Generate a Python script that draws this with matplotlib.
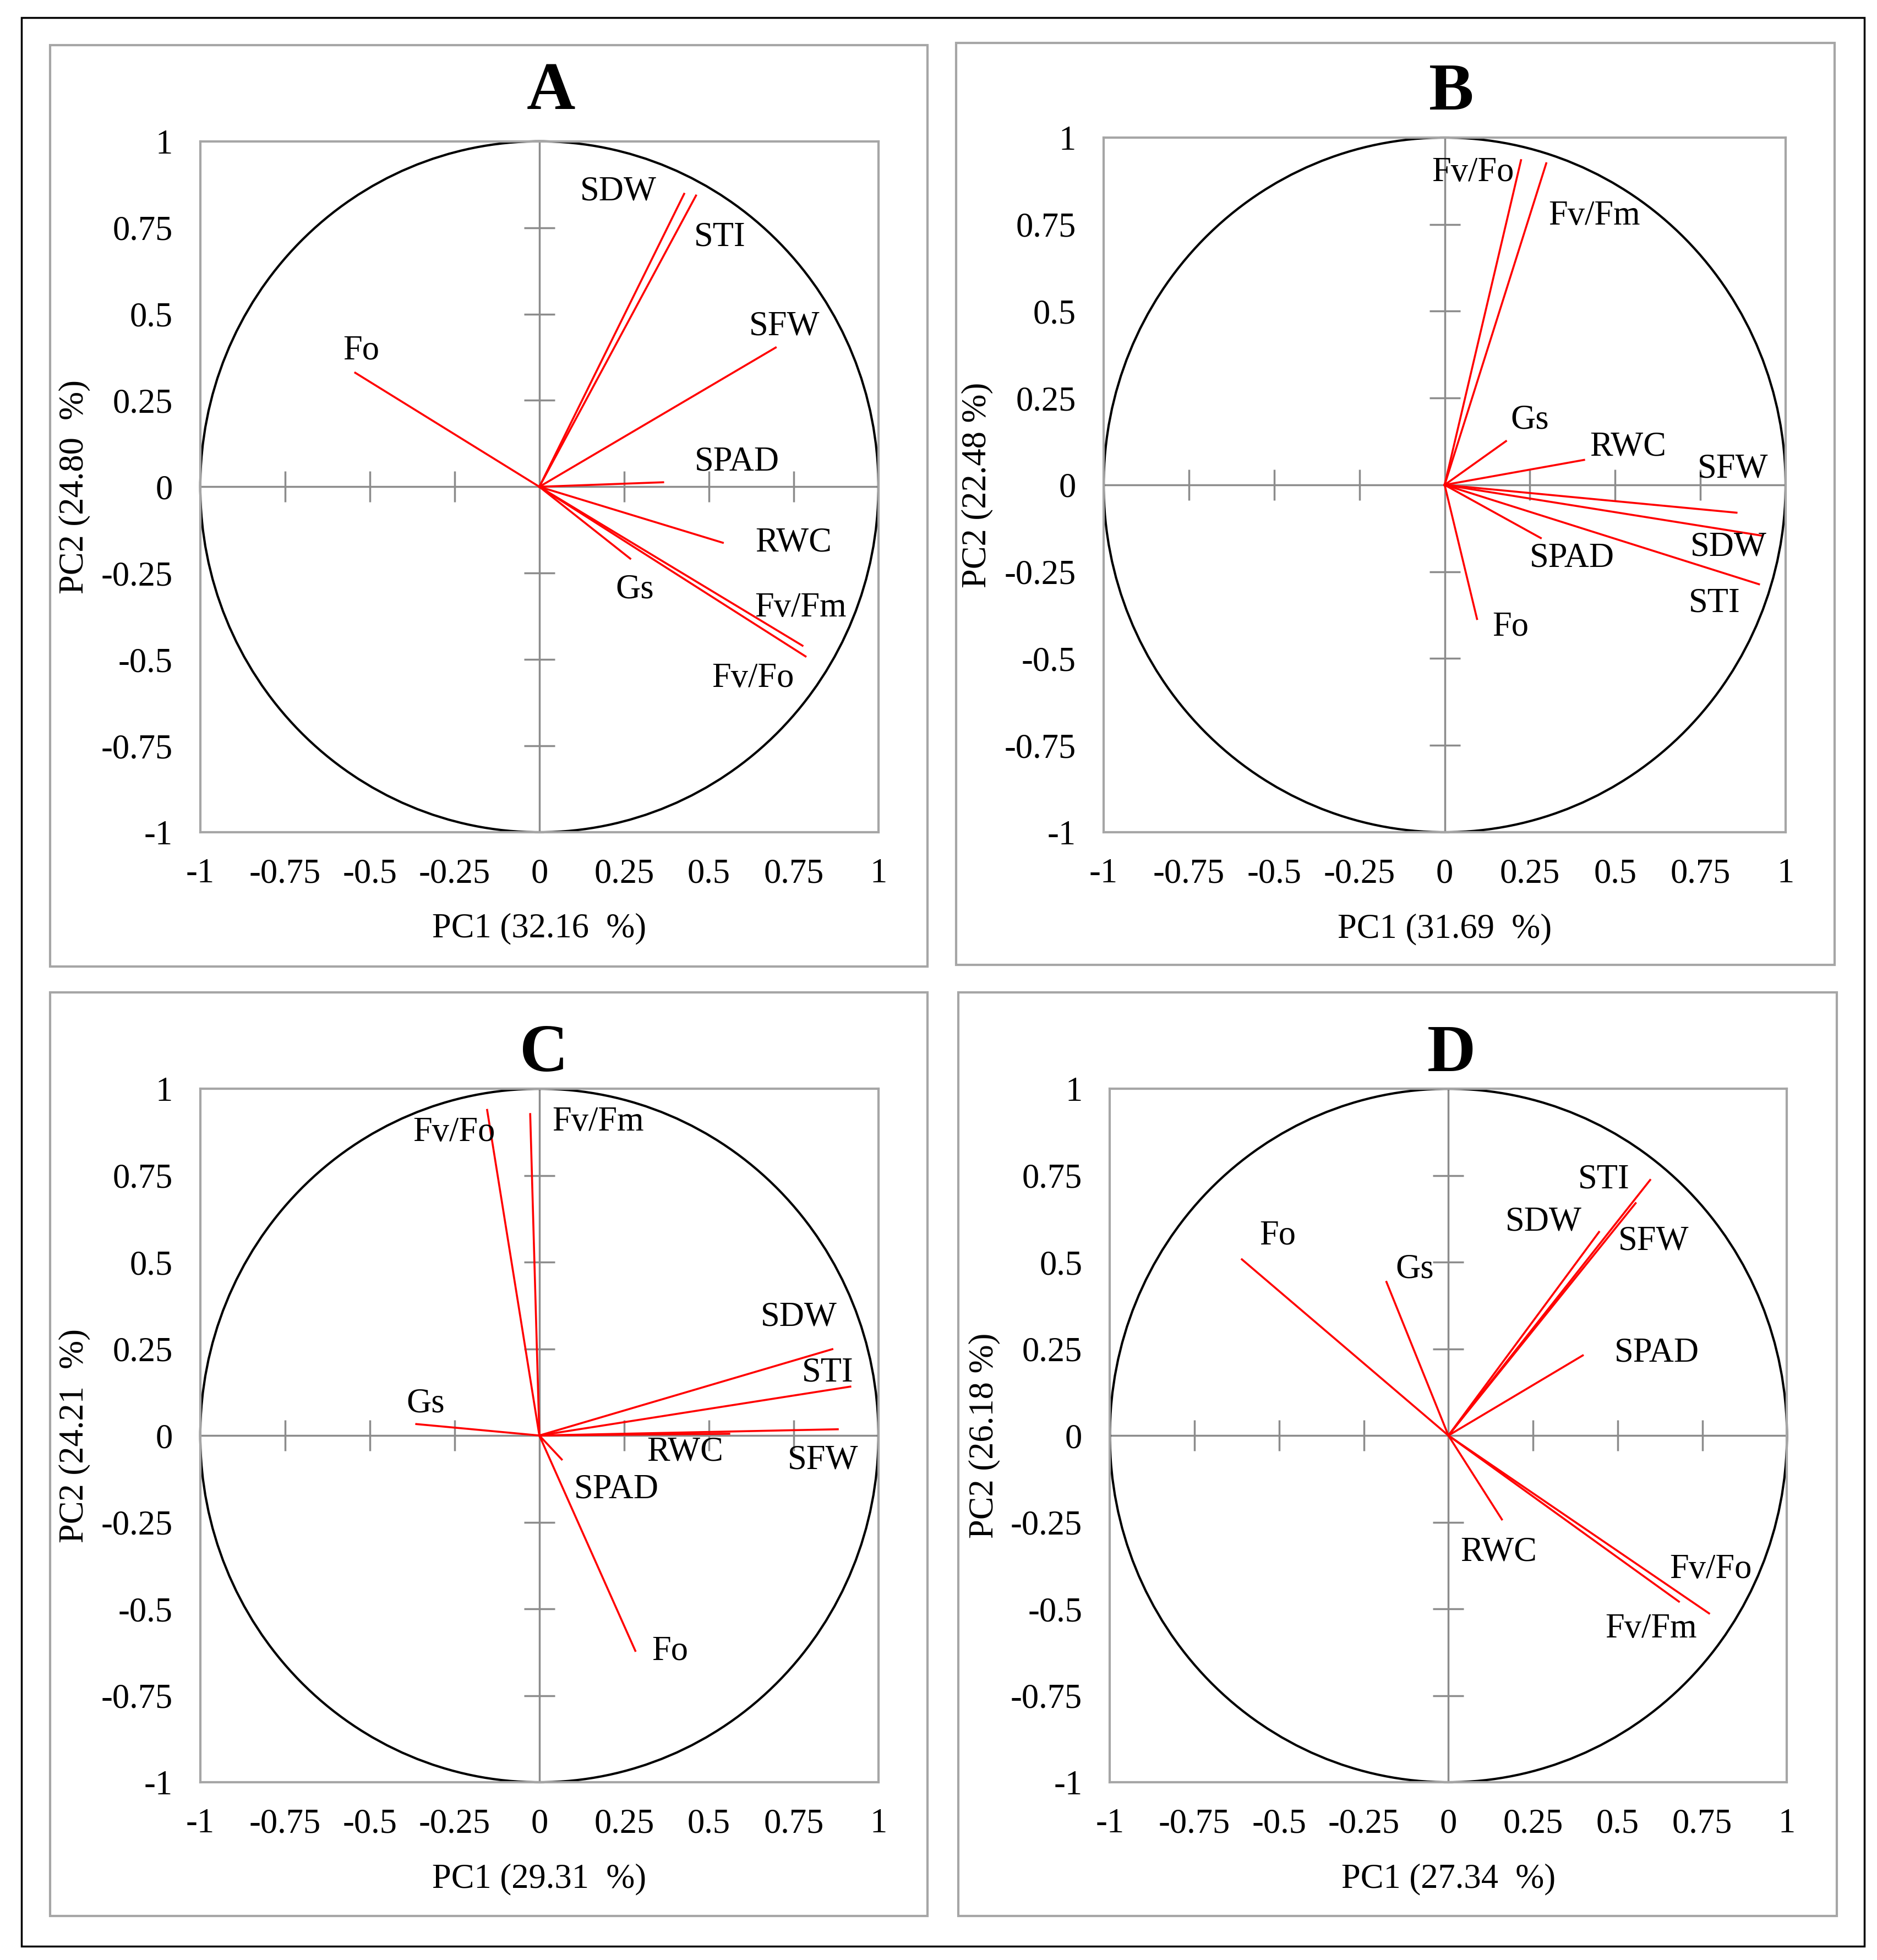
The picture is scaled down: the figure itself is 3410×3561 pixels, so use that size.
import numpy as np
import matplotlib
matplotlib.use('Agg')
import matplotlib.pyplot as plt
from matplotlib.patches import Rectangle, Circle

plt.rcParams['font.family'] = ['Liberation Serif', 'DejaVu Serif']
plt.rcParams['axes.unicode_minus'] = False

# variables and loadings (PC1, PC2) per panel
panels = ['A', 'B', 'C', 'D']

vars_A = ['Fo', 'SDW', 'STI', 'SFW', 'SPAD', 'RWC', 'Gs', 'Fv/Fm', 'Fv/Fo']
pc1_A = [-0.543, 0.427, 0.462, 0.697, 0.365, 0.541, 0.268, 0.776, 0.785]
pc2_A = [0.330, 0.848, 0.843, 0.403, 0.013, -0.162, -0.208, -0.460, -0.491]

vars_B = ['Fv/Fo', 'Fv/Fm', 'Gs', 'RWC', 'SFW', 'SDW', 'STI', 'SPAD', 'Fo']
pc1_B = [0.224, 0.298, 0.180, 0.409, 0.856, 0.930, 0.922, 0.282, 0.095]
pc2_B = [0.935, 0.926, 0.126, 0.072, -0.080, -0.146, -0.286, -0.153, -0.386]

vars_C = ['Fv/Fo', 'Fv/Fm', 'Gs', 'SDW', 'STI', 'SFW', 'RWC', 'SPAD', 'Fo']
pc1_C = [-0.154, -0.027, -0.363, 0.864, 0.917, 0.880, 0.560, 0.066, 0.283]
pc2_C = [0.939, 0.927, 0.033, 0.249, 0.141, 0.018, 0.005, -0.069, -0.621]

vars_D = ['Fo', 'Gs', 'SDW', 'STI', 'SFW', 'SPAD', 'RWC', 'Fv/Fo', 'Fv/Fm']
pc1_D = [-0.610, -0.183, 0.445, 0.596, 0.553, 0.397, 0.158, 0.770, 0.681]
pc2_D = [0.508, 0.443, 0.587, 0.737, 0.670, 0.231, -0.242, -0.513, -0.479]

pc1_pct = ['32.16  %', '31.69  %', '29.31  %', '27.34  %']
pc2_pct = ['24.80  %', '22.48 %', '24.21  %', '26.18 %']

ticks = [-1, -0.75, -0.5, -0.25, 0, 0.25, 0.5, 0.75, 1]
tick_labels = ['-1', '-0.75', '-0.5', '-0.25', '0', '0.25', '0.5', '0.75', '1']

# label placement (centre of text, data units)
lab_A = [(-0.526, 0.394), (0.233, 0.854), (0.533, 0.722), (0.723, 0.464), (0.582, 0.072),
         (0.750, -0.162), (0.282, -0.298), (0.771, -0.352), (0.630, -0.556)]
lab_B = [(0.083, 0.899), (0.439, 0.773), (0.250, 0.186), (0.538, 0.108), (0.845, 0.045),
         (0.832, -0.180), (0.792, -0.341), (0.374, -0.211), (0.194, -0.410)]
lab_C = [(-0.251, 0.873), (0.173, 0.903), (-0.336, 0.092), (0.766, 0.340), (0.851, 0.181),
         (0.837, -0.072), (0.430, -0.049), (0.227, -0.157), (0.386, -0.623)]
lab_D = [(-0.504, 0.575), (-0.099, 0.479), (0.282, 0.616), (0.459, 0.737), (0.606, 0.560),
         (0.615, 0.237), (0.149, -0.338), (0.775, -0.387), (0.598, -0.558)]

data = {
    'A': (vars_A, pc1_A, pc2_A, lab_A),
    'B': (vars_B, pc1_B, pc2_B, lab_B),
    'C': (vars_C, pc1_C, pc2_C, lab_C),
    'D': (vars_D, pc1_D, pc2_D, lab_D),
}

# layout in figure fractions
ax_rects = {
    'A': [0.1067, 0.5754, 0.3613, 0.3525],
    'B': [0.5880, 0.5754, 0.3633, 0.3544],
    'C': [0.1067, 0.0907, 0.3613, 0.3538],
    'D': [0.5913, 0.0907, 0.3607, 0.3538],
}
frames = {
    'A': (0.0267, 0.507, 0.4673, 0.470),
    'B': (0.5093, 0.5077, 0.4680, 0.4703),
    'C': (0.0267, 0.0224, 0.4673, 0.4712),
    'D': (0.5107, 0.0224, 0.4680, 0.4712),
}
title_pos = {'A': (0.517, 1.026), 'B': (0.510, 1.020), 'C': (0.507, 1.005), 'D': (0.505, 1.005)}

fs = 45
grey = '#a6a6a6'
axis_grey = '#8c8c8c'

fig = plt.figure(figsize=(34.10, 35.61), dpi=100)
fig.patch.set_facecolor('white')

# outer border
fig.add_artist(Rectangle((0.0113, 0.007), 0.982, 0.984, transform=fig.transFigure,
                         fill=False, edgecolor='black', linewidth=2.5))

for i, p in enumerate(panels):
    fx, fy, fw, fh = frames[p]
    fig.add_artist(Rectangle((fx, fy), fw, fh, transform=fig.transFigure,
                             fill=False, edgecolor=grey, linewidth=3))

    ax = fig.add_axes(ax_rects[p])
    names, xs, ys, labs = data[p]
    ax.set_xlim(-1, 1)
    ax.set_ylim(-1, 1)
    for s in ax.spines.values():
        s.set_color(grey)
        s.set_linewidth(3)

    # zero axes with cross ticks
    ax.axhline(0, color=axis_grey, linewidth=2.5, zorder=1)
    ax.axvline(0, color=axis_grey, linewidth=2.5, zorder=1)
    inner = [t for t in ticks if t not in (-1, 0, 1)]
    ax.plot(inner, np.zeros(len(inner)), linestyle='none', marker='|', markersize=40,
            markeredgewidth=2.5, color=axis_grey, zorder=1)
    ax.plot(np.zeros(len(inner)), inner, linestyle='none', marker='_', markersize=40,
            markeredgewidth=2.5, color=axis_grey, zorder=1)

    # correlation circle
    ax.add_patch(Circle((0, 0), 1, fill=False, edgecolor='black', linewidth=3, zorder=2,
                        clip_on=False))

    # loading vectors
    for n, x, y, (lx, ly) in zip(names, xs, ys, labs):
        ax.plot([0, x], [0, y], color='red', linewidth=2.6, zorder=3)
        ax.text(lx, ly, n, fontsize=fs, ha='center', va='center', zorder=4)

    ax.set_xticks(ticks)
    ax.set_xticklabels(tick_labels)
    ax.set_yticks(ticks)
    ax.set_yticklabels(tick_labels)
    ax.tick_params(axis='both', length=0, labelsize=fs)
    ax.tick_params(axis='x', pad=34)
    ax.tick_params(axis='y', pad=36)

    ax.text(0.5, -0.14, 'PC1 (' + pc1_pct[i] + ')', transform=ax.transAxes,
            fontsize=fs, ha='center', va='center')
    ax.text(-0.185, 0.5, 'PC2 (' + pc2_pct[i] + ')', transform=ax.transAxes,
            fontsize=fs, ha='center', va='center', rotation=90)

    tx, ty = title_pos[p]
    ax.text(tx, ty, p, transform=ax.transAxes, fontsize=88, fontweight='bold',
            ha='center', va='bottom')

fig.savefig('out.png', dpi=100)
